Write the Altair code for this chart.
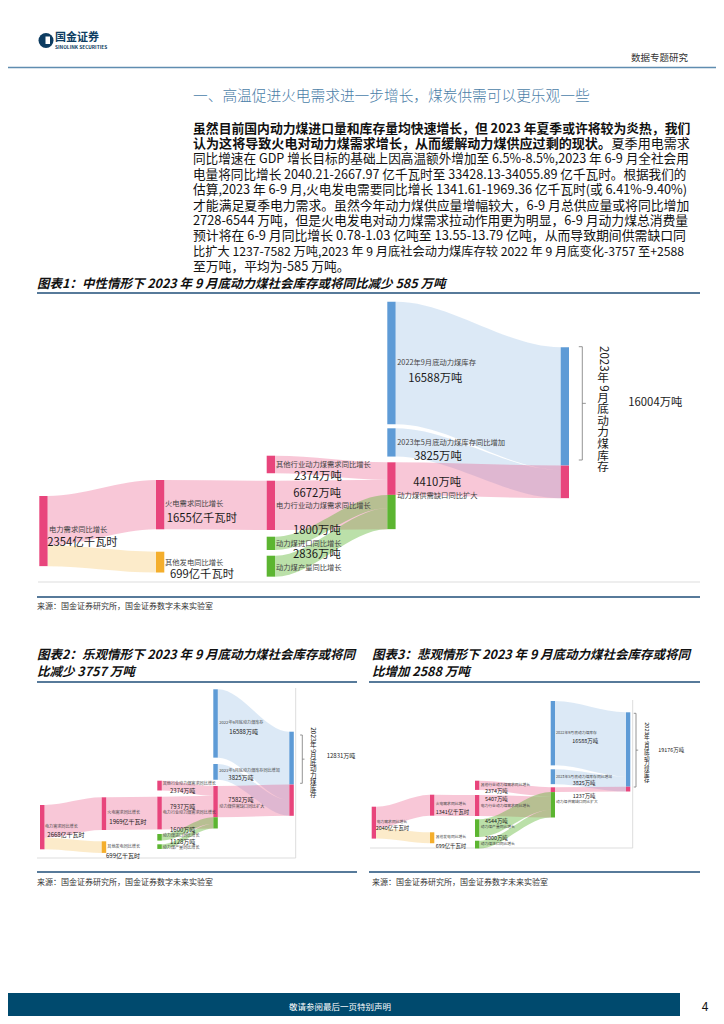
import re
import altair as alt
import pandas as pd

FONT = "Noto Sans CJK SC"
DARK = "#1a1a1a"
NAVY = "#0d3c61"

# ---------------- data ----------------
NODE_KEYS = ["power", "thermal", "other_gen", "other_ind", "power_ind",
             "imp", "prod", "inv22", "inv_inc", "gap", "inv23"]
NODE_NAMES = ["电力需求同比增长", "火电需求同比增长", "其他发电同比增长",
              "其他行业动力煤需求同比增长", "电力行业动力煤需求同比增长",
              "动力煤进口同比增长", "动力煤产量同比增长",
              "2022年9月底动力煤库存", "2023年5月底动力煤库存同比增加",
              "动力煤供需缺口同比扩大", "2023年9月底动力煤库存"]
ELEC_KEYS = ["power", "thermal", "other_gen"]          # 亿千瓦时
VALUES_NEUTRAL = [2354, 1655, 699, 2374, 6672, 1800, 2836, 16588, 3825, 4410, 16004]
VALUES_OPTIMISTIC = [2668, 1969, 699, 2374, 7937, 1600, 1128, 16588, 3825, 7582, 12831]
VALUES_PESSIMISTIC = [2040, 1341, 699, 2374, 5407, 2000, 4544, 16588, 3825, 1237, 19176]

HEADER_RIGHT = "数据专题研究"
LOGO_CN = "国金证券"
LOGO_EN = "SINOLINK SECURITIES"
SECTION_TITLE = "一、高温促进火电需求进一步增长，煤炭供需可以更乐观一些"
PARA_LINES = [
    [("虽然目前国内动力煤进口量和库存量均快速增长，但 2023 年夏季或许将较为炎热，我们", True)],
    [("认为这将导致火电对动力煤需求增长，从而缓解动力煤供应过剩的现状。", True), ("夏季用电需求", False)],
    [("同比增速在 GDP 增长目标的基础上因高温额外增加至 6.5%-8.5%,2023 年 6-9 月全社会用", False)],
    [("电量将同比增长 2040.21-2667.97 亿千瓦时至 33428.13-34055.89 亿千瓦时。根据我们的", False)],
    [("估算,2023 年 6-9 月,火电发电需要同比增长 1341.61-1969.36 亿千瓦时(或 6.41%-9.40%)", False)],
    [("才能满足夏季电力需求。虽然今年动力煤供应量增幅较大，6-9 月总供应量或将同比增加", False)],
    [("2728-6544 万吨，但是火电发电对动力煤需求拉动作用更为明显，6-9 月动力煤总消费量", False)],
    [("预计将在 6-9 月同比增长 0.78-1.03 亿吨至 13.55-13.79 亿吨，从而导致期间供需缺口同", False)],
    [("比扩大 1237-7582 万吨,2023 年 9 月底社会动力煤库存较 2022 年 9 月底变化-3757 至+2588", False)],
    [("至万吨，平均为-585 万吨。", False)],
]
FIG1_TITLE = "图表1：中性情形下 2023 年 9 月底动力煤社会库存或将同比减少 585 万吨"
FIG2_TITLE = ["图表2：乐观情形下 2023 年 9 月底动力煤社会库存或将同", "比减少 3757 万吨"]
FIG3_TITLE = ["图表3：悲观情形下 2023 年 9 月底动力煤社会库存或将同", "比增加 2588 万吨"]
SOURCE = "来源：国金证券研究所，国金证券数字未来实验室"
FOOTER = "敬请参阅最后一页特别声明"
PAGE_NO = "4"

# ---------------- styles / layout ----------------
PINK, ORANGE, GREEN, BLUE = "#e8457c", "#f4ae2c", "#5cb531", "#5e9bd6"
PX = alt.Scale(domain=[8, 716], range=[0, 708], nice=False, zero=False)
PY = alt.Scale(domain=[8, 1016], range=[0, 1008], nice=False, zero=False)

SANKEY_LAYOUT = [
    dict(vals=VALUES_NEUTRAL, origin=301.7, k=0.00739, nw=8.3,
         colx=[39.3, 156, 156, 266.7, 266.7, 266.7, 266.7, 387.3, 387.3, 387.3, 560.7],
         top=[496, 480, 551.7, 455.7, 480.7, 536.7, 555.7, 301.7, 428.3, 462.3, 347.3],
         name_fs=7.3, val_fs=11.3,
         name_pos=[(49, 530), (165, 504.3), (165, 562.7), (276, 464.5), (276, 506.2), (276, 543.5),
                   (276, 567.5), (397.3, 362.7), (397.3, 442.7), (397.3, 495.9), None],
         val_pos=[(47.3, 542.7), (166.7, 519.3), (170, 575), (294, 476.7), (293.3, 494), (293, 531),
                  (293, 555.3), (408.3, 379.3), (414, 456.7), (413.3, 483.3), (628.3, 403.3)],
         vtext=(603, 345, 11.6), brace=(582.3, 346.7, 460)),
    dict(vals=VALUES_OPTIMISTIC, origin=689.3, k=0.00412, nw=4.5,
         colx=[40, 101.7, 101.7, 157.3, 157.3, 157.3, 157.3, 213.3, 213.3, 213.3, 289.3],
         top=[805, 797.3, 841.3, 780.7, 796.7, 834, 844.3, 689.3, 764, 786, 731.7],
         name_fs=4.1, val_fs=6.0,
         name_pos=[(45, 826.5), (107.3, 812.7), (107.3, 846.7), (162.7, 784.4), (162.7, 813.2), (162.7, 836.2),
                   (162.7, 848.3), (219.3, 723.3), (219.3, 771), (219.3, 806.6), None],
         val_pos=[(47.3, 835.3), (109.3, 822.3), (106, 855.7), (170, 791), (170, 806.6), (170, 829.6),
                  (170, 842), (229.3, 732), (228.3, 778), (228.3, 800), (326.7, 756)],
         vtext=(313.3, 726.7, 6.5), brace=(302.3, 735, 783.3)),
    dict(vals=VALUES_PESSIMISTIC, origin=701, k=0.00388, nw=4.3,
         colx=[371.7, 430, 430, 475, 475, 475, 475, 550.7, 550.7, 550.7, 626],
         top=[806.7, 794.7, 832.3, 780.7, 795, 840.7, 819.3, 701, 769.3, 787.3, 712.3],
         name_fs=3.8, val_fs=5.4,
         name_pos=[(376.7, 821.5), (435.7, 804.3), (435.7, 837.3), (480.7, 784.5), (480.7, 805.7), (480.7, 844.4),
                   (480.7, 827.2), (556, 733.3), (556, 776.7), (556, 802), None],
         val_pos=[(375.7, 827.9), (435.7, 811.7), (435.7, 845.7), (485, 790.9), (485, 799.3), (485, 837.8),
                  (485, 820.8), (572.3, 740.7), (572.7, 783.3), (572.7, 795.6), (658.3, 750)],
         vtext=(646.7, 721.7, 5.6), brace=(636, 713.3, 787)),
]


def tlayer(rows, align="left", baseline="middle", **kw):
    df = pd.DataFrame(rows)
    return alt.Chart(df).mark_text(font=FONT, align=align, baseline=baseline, **kw).encode(
        x=alt.X("x:Q", scale=PX, axis=None), y=alt.Y("y:Q", scale=PY, axis=None),
        text="t:N", size=alt.Size("s:Q", scale=None, legend=None),
        color=alt.Color("c:N", scale=None, legend=None))


def rlayer(rows, color, width):
    df = pd.DataFrame(rows)
    return alt.Chart(df).mark_rule(color=color, strokeWidth=width).encode(
        x=alt.X("x:Q", scale=PX, axis=None), x2="x2:Q",
        y=alt.Y("y:Q", scale=PY, axis=None), y2="y2:Q")


def rect_page(rows, color):
    df = pd.DataFrame(rows)
    return alt.Chart(df).mark_rect(color=color).encode(
        x=alt.X("x:Q", scale=PX, axis=None), x2="x2:Q",
        y=alt.Y("y:Q", scale=PY, axis=None), y2="y2:Q")


def cw(ch):
    o = ord(ch)
    if o > 0x2E80:
        return 1.0
    if ch.isdigit():
        return 0.56
    if ch in ".,":
        return 0.28
    if ch == " ":
        return 0.25
    if ch == "%":
        return 0.86
    if ch == "-":
        return 0.36
    if ch == "+":
        return 0.56
    if ch in "()":
        return 0.33
    if ch.isupper():
        return 0.65
    return 0.5


def sankey_layers(cfg):
    v = dict(zip(NODE_KEYS, cfg["vals"]))
    f = v["power_ind"] / v["thermal"]          # 万吨 per 亿千瓦时 implied by the chart
    t = dict(v)
    for kk in ELEC_KEYS:
        t[kk] = v[kk] * f
    k, org, nw = cfg["k"], cfg["origin"], cfg["nw"]
    cx = dict(zip(NODE_KEYS, cfg["colx"]))
    vt = {kk: (tp - org) / k for kk, tp in zip(NODE_KEYS, cfg["top"])}
    ys = alt.Scale(domain=[0, 40000], range=[org - 8, org - 8 + 40000 * k], nice=False, zero=False)

    nodes = []

    def node(key, a, b, col):
        nodes.append(dict(x=cx[key], x2=cx[key] + nw, y=a, y2=b, c=col))

    node("power", vt["power"], vt["power"] + t["power"], PINK)
    node("thermal", vt["thermal"], vt["thermal"] + t["thermal"], PINK)
    node("other_gen", vt["other_gen"], vt["other_gen"] + t["other_gen"], ORANGE)
    node("other_ind", vt["other_ind"], vt["other_ind"] + t["other_ind"], PINK)
    node("power_ind", vt["power_ind"], vt["power_ind"] + t["power_ind"], PINK)
    node("imp", vt["imp"], vt["imp"] + t["imp"], GREEN)
    node("prod", vt["prod"], vt["prod"] + t["prod"], GREEN)
    node("inv22", vt["inv22"], vt["inv22"] + t["inv22"], BLUE)
    node("inv_inc", vt["inv_inc"], vt["inv_inc"] + t["inv_inc"], BLUE)
    supply = t["imp"] + t["prod"]
    node("gap", vt["gap"], vt["gap"] + t["gap"], PINK)
    node("gap", vt["gap"] + t["gap"], vt["gap"] + t["gap"] + supply, GREEN)
    node("inv23", vt["inv23"], vt["inv23"] + t["inv23"], BLUE)
    node("inv23", vt["inv23"] + t["inv23"], vt["inv23"] + t["inv23"] + t["gap"], PINK)

    links = []

    def link(s, tg, so, to, val, col, op):
        x0 = cx[s] + nw
        x1 = cx[tg]
        lid = len(links) // 4
        for xx, yy in ((x0, vt[s] + so), (x0 + 0.3, vt[s] + so),
                       (x1 - 0.3, vt[tg] + to), (x1, vt[tg] + to)):
            links.append(dict(id=lid, x=xx, y=yy, y2=yy + val, c=col, o=op))

    link("power", "thermal", 0, 0, t["thermal"], PINK, 0.3)
    link("power", "other_gen", t["thermal"], 0, t["other_gen"], ORANGE, 0.25)
    link("thermal", "power_ind", 0, 0, t["power_ind"], PINK, 0.3)
    link("other_ind", "gap", 0, 0, t["other_ind"], PINK, 0.3)
    link("power_ind", "gap", 0, t["other_ind"], t["power_ind"], PINK, 0.3)
    off = t["gap"]
    for sk in sorted(["imp", "prod"], key=lambda q: vt[q]):
        link(sk, "gap", 0, off, t[sk], GREEN, 0.42)
        off += t[sk]
    link("inv22", "inv23", 0, 0, t["inv22"], BLUE, 0.22)
    link("inv_inc", "inv23", 0, t["inv22"], t["inv_inc"], BLUE, 0.22)
    link("gap", "inv23", 0, t["inv23"], t["gap"], PINK, 0.3)

    ldf = pd.DataFrame(links)
    ndf = pd.DataFrame(nodes)
    lay = [
        alt.Chart(ldf).mark_area(interpolate="monotone").encode(
            x=alt.X("x:Q", scale=PX, axis=None),
            y=alt.Y("y:Q", scale=ys, axis=None, stack=None), y2="y2:Q",
            detail="id:N", color=alt.Color("c:N", scale=None, legend=None),
            opacity=alt.Opacity("o:Q", scale=None, legend=None)),
        alt.Chart(ndf).mark_rect().encode(
            x=alt.X("x:Q", scale=PX, axis=None), x2="x2:Q",
            y=alt.Y("y:Q", scale=ys, axis=None), y2="y2:Q",
            color=alt.Color("c:N", scale=None, legend=None)),
    ]
    # labels
    names, valsr = [], []
    for kk, nm, npos, vpos in zip(NODE_KEYS, NODE_NAMES, cfg["name_pos"], cfg["val_pos"]):
        if npos:
            names.append(dict(t=nm, x=npos[0], y=npos[1], s=cfg["name_fs"], c="#444444"))
        unit = "亿千瓦时" if kk in ELEC_KEYS else "万吨"
        valsr.append(dict(t=f"{v[kk]}{unit}", x=vpos[0], y=vpos[1], s=cfg["val_fs"], c=DARK))
    lay.append(tlayer(names))
    lay.append(tlayer(valsr))
    # vertical label: CJK runs stacked upright (multi-line), digit runs rotated
    cxv, y0, fs = cfg["vtext"]
    up, rot = [], []
    yy = y0
    for tok in re.findall(r"[0-9]+|[^0-9]+", NODE_NAMES[-1]):
        if tok.isdigit():
            h = len(tok) * 0.56 * fs + 0.15 * fs
            rot.append(dict(t=tok, x=cxv, y=yy + h / 2, s=fs, c=DARK))
        else:
            h = len(tok) * fs
            up.append(dict(t="\n".join(tok), x=cxv, y=yy, s=fs, c=DARK))
        yy += h
    lay.append(tlayer(up, align="center", baseline="top", lineBreak="\n", lineHeight=fs))
    lay.append(tlayer(rot, align="center", angle=90))
    # brace
    bx, b0, b1 = cfg["brace"]
    sw = 3.5 if fs > 8 else 2.2
    bm = (b0 + b1) / 2
    lay.append(rlayer([dict(x=bx, x2=bx, y=b0, y2=b1), dict(x=bx - sw, x2=bx, y=b0, y2=b0),
                       dict(x=bx - sw, x2=bx, y=b1, y2=b1), dict(x=bx, x2=bx + sw, y=bm, y2=bm)],
                      "#7a7a7a", 0.8))
    return lay


layers = []

# header
layers.append(alt.Chart(pd.DataFrame([dict(x=46, y=40.5)])).mark_point(
    shape="circle", filled=True, size=225, color=NAVY, opacity=1).encode(
    x=alt.X("x:Q", scale=PX, axis=None), y=alt.Y("y:Q", scale=PY, axis=None)))
layers.append(rect_page([dict(x=45.5, x2=50, y=36.5, y2=44)], "white"))
layers.append(tlayer([dict(t=LOGO_CN, x=55, y=37.5, s=11, c=NAVY)], fontWeight="bold"))
layers.append(tlayer([dict(t=LOGO_EN, x=55, y=47.5, s=4.8, c=NAVY)], fontWeight="bold"))
layers.append(tlayer([dict(t=HEADER_RIGHT, x=688, y=57.5, s=9.5, c="#333333")], align="right"))
layers.append(rlayer([dict(x=8, x2=716, y=67.5, y2=67.5)], "#5f8db0", 1.5))

# section title
layers.append(tlayer([dict(t=SECTION_TITLE, x=193, y=97, s=14.7, c="#4b7ea8")], fontWeight=300))

# paragraph: one text per line, size fitted to the column width
PX0, PX1, PY0, LH, FS = 193, 690, 128.6, 15.4, 12.8
prow_b, prow_n = [], []
for i, segs in enumerate(PARA_LINES):
    nat = sum(cw(c) for text, _ in segs for c in text)
    last = i == len(PARA_LINES) - 1
    fs = FS if last else min(max((PX1 - PX0) / nat, 12.0), 13.6)
    xx = PX0
    for text, bold in segs:
        (prow_b if bold else prow_n).append(dict(t=text, x=xx, y=PY0 + i * LH, s=fs, c="#111111"))
        xx += sum(cw(c) for c in text) * fs
layers.append(tlayer(prow_b, fontWeight="bold"))
layers.append(tlayer(prow_n))

# figure titles, rules, sources
layers.append(tlayer([dict(t=FIG1_TITLE, x=37, y=284, s=12.5, c="#111111"),
                      dict(t=FIG2_TITLE[0], x=37, y=655, s=12.5, c="#111111"),
                      dict(t=FIG2_TITLE[1], x=37, y=672, s=12.5, c="#111111"),
                      dict(t=FIG3_TITLE[0], x=372, y=655, s=12.5, c="#111111"),
                      dict(t=FIG3_TITLE[1], x=372, y=672, s=12.5, c="#111111")],
                     fontStyle="italic", fontWeight="bold"))
layers.append(rlayer([dict(x=37, x2=700, y=293, y2=293), dict(x=37, x2=700, y=597, y2=597),
                      dict(x=37, x2=357, y=682, y2=682), dict(x=369, x2=700, y=682, y2=682),
                      dict(x=37, x2=357, y=872, y2=872), dict(x=369, x2=700, y=872, y2=872)],
                     "#1f4e79", 1.6))
layers.append(rlayer([dict(x=38, x2=700, y=582, y2=582),
                      dict(x=295.7, x2=295.7, y=688, y2=858), dict(x=37, x2=295.7, y=858, y2=858),
                      dict(x=632.7, x2=632.7, y=700, y2=848), dict(x=370, x2=632.7, y=848, y2=848)],
                     "#dddddd", 1))
layers.append(tlayer([dict(t=SOURCE, x=37, y=607, s=8, c="#333333"),
                      dict(t=SOURCE, x=37, y=883, s=8, c="#333333"),
                      dict(t=SOURCE, x=372, y=883, s=8, c="#333333")]))

# sankeys
for cfg in SANKEY_LAYOUT:
    layers.extend(sankey_layers(cfg))

# footer
layers.append(rect_page([dict(x=0, x2=680, y=993, y2=1021)], "#004a6e"))
layers.append(tlayer([dict(t=FOOTER, x=340, y=1007, s=8.5, c="white")], align="center"))
layers.append(tlayer([dict(t=PAGE_NO, x=705, y=1007, s=12, c="#111111")], align="center"))

chart = alt.layer(*layers).resolve_scale(x="independent", y="independent").properties(
    width=708, height=1008, autosize=alt.AutoSizeParams(type="none"), padding=0,
    background="white").configure_view(stroke=None)

chart.save("out.html", embed_options={"renderer": "svg", "actions": False})
